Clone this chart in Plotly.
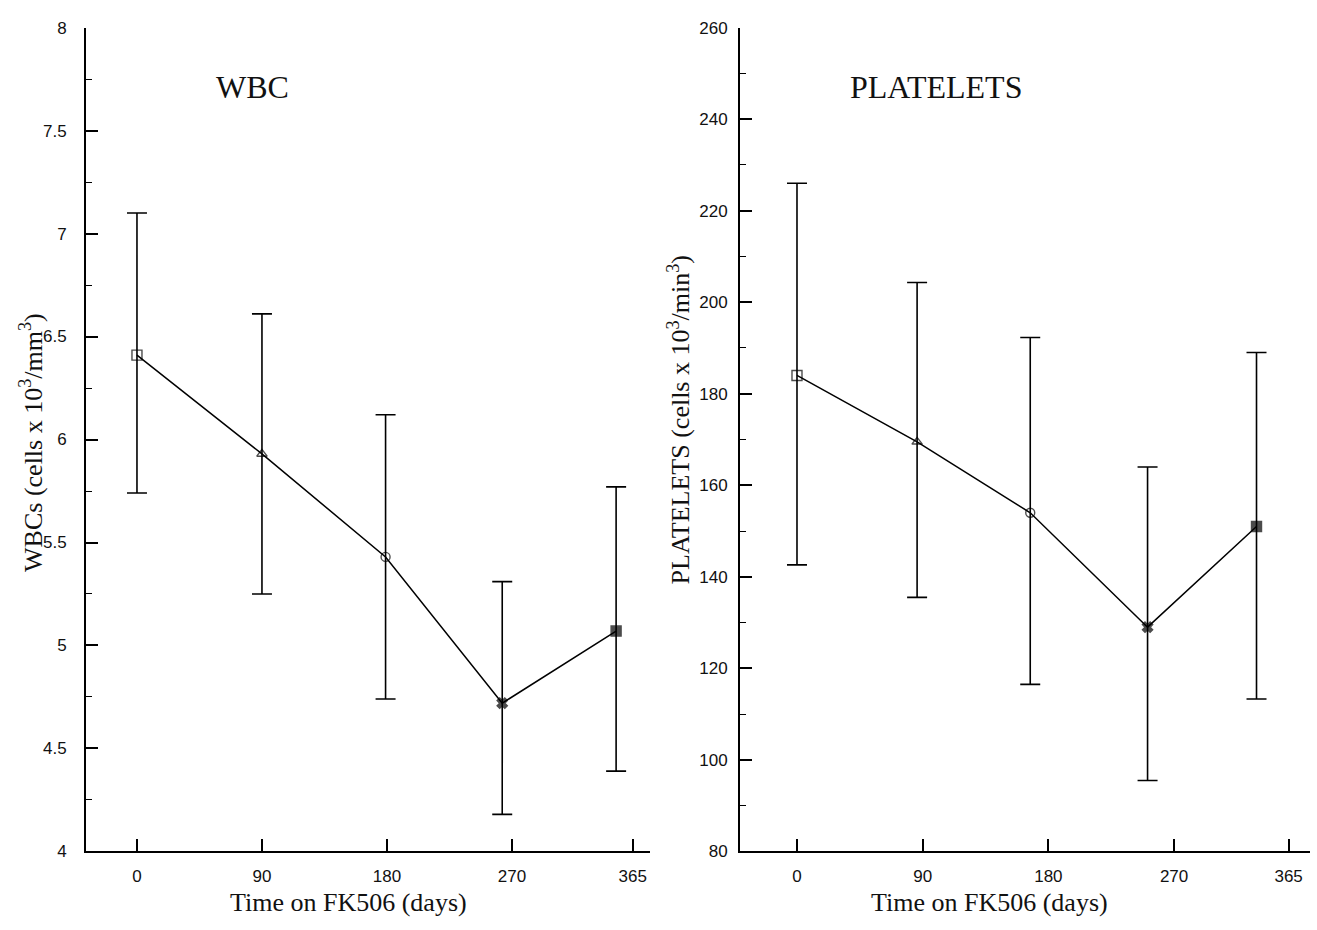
import plotly.graph_objects as go

# ---- data ----
x_tick_labels = ["0", "90", "180", "270", "365"]

wbc_days = [0, 90, 179, 263, 345]
wbc_mean = [6.41, 5.93, 5.43, 4.72, 5.07]
wbc_upper = [7.10, 6.61, 6.12, 5.31, 5.77]
wbc_lower = [5.74, 5.25, 4.74, 4.18, 4.39]

plt_days = [0, 86, 167, 251, 329]
plt_mean = [184, 169.5, 154, 129, 151]
plt_upper = [226, 204.3, 192.3, 164, 189]
plt_lower = [142.6, 135.5, 116.5, 95.5, 113.3]

point_symbols = ["square-open", "triangle-up-open", "circle-open", "x", "square"]
point_sizes = [10, 9, 9, 9, 10]

W, H = 1317, 930
SERIF = "Liberation Serif, Times New Roman, serif"
SANS = "Liberation Sans, Arial, sans-serif"

fig = go.Figure()


def add_series(xs, mean, upper, lower, xa, ya):
    fig.add_trace(go.Scatter(
        x=xs, y=mean, mode="lines+markers",
        line=dict(color="black", width=1.5),
        marker=dict(symbol=point_symbols, size=point_sizes, color="black",
                    line=dict(color="black", width=1.4)),
        error_y=dict(type="data", symmetric=False,
                     array=[u - m for u, m in zip(upper, mean)],
                     arrayminus=[m - l for m, l in zip(mean, lower)],
                     color="black", thickness=1.6, width=10),
        xaxis=xa, yaxis=ya, showlegend=False, hoverinfo="skip",
    ))


add_series(wbc_days, wbc_mean, wbc_upper, wbc_lower, "x", "y")
add_series(plt_days, plt_mean, plt_upper, plt_lower, "x2", "y2")

ydom = [1 - 860 / H, 1 - 19 / H]


def axis_style(standoff):
    return dict(ticks="inside", ticklen=12, tickwidth=1.5, tickcolor="black",
                showline=True, linewidth=2, linecolor="black", showgrid=False,
                zeroline=False, tickfont=dict(family=SANS, size=17, color="#111"),
                ticklabelstandoff=standoff)


fig.update_layout(
    width=W, height=H,
    margin=dict(l=0, r=0, t=0, b=0),
    paper_bgcolor="white", plot_bgcolor="white",
    xaxis=dict(domain=[86 / W, 650 / W], range=[-36.7, 369.4], anchor="y",
               tickmode="array", tickvals=[0, 90, 180, 270, 357], ticktext=x_tick_labels,
               **axis_style(8)),
    yaxis=dict(domain=ydom, range=[4, 8], anchor="x", tick0=4, dtick=0.5,
               minor=dict(ticks="inside", ticklen=6, dtick=0.25, tickwidth=1.2,
                          tickcolor="black", showgrid=False),
               **axis_style(14)),
    xaxis2=dict(domain=[740 / W, 1310 / W], range=[-40.8, 367.3], anchor="y2",
                tickmode="array", tickvals=[0, 90, 180, 270, 352], ticktext=x_tick_labels,
                **axis_style(8)),
    yaxis2=dict(domain=ydom, range=[80, 260], anchor="x2", tick0=80, dtick=20,
                minor=dict(ticks="inside", ticklen=6, dtick=10, tickwidth=1.2,
                           tickcolor="black", showgrid=False),
                **axis_style(7)),
)

annots = [
    dict(text="WBC", x=252 / W, y=1 - 80 / H, font=dict(family=SERIF, size=32, color="#111")),
    dict(text="PLATELETS", x=936 / W, y=1 - 80 / H, font=dict(family=SERIF, size=32, color="#111")),
    dict(text="Time on FK506 (days)", x=348 / W, y=1 - 912 / H, font=dict(family=SERIF, size=26, color="#111")),
    dict(text="Time on FK506 (days)", x=989 / W, y=1 - 912 / H, font=dict(family=SERIF, size=26, color="#111")),
    dict(text="WBCs (cells x 10<sup>3</sup>/mm<sup>3</sup>)", x=32 / W, y=1 - 443 / H, textangle=-90,
         font=dict(family=SERIF, size=26, color="#111")),
    dict(text="PLATELETS (cells x 10<sup>3</sup>/min<sup>3</sup>)", x=679 / W, y=1 - 420 / H, textangle=-90,
         font=dict(family=SERIF, size=26, color="#111")),
]
for a in annots:
    fig.add_annotation(xref="paper", yref="paper", xanchor="center", yanchor="middle",
                       showarrow=False, **a)

fig.write_html("out.html")
